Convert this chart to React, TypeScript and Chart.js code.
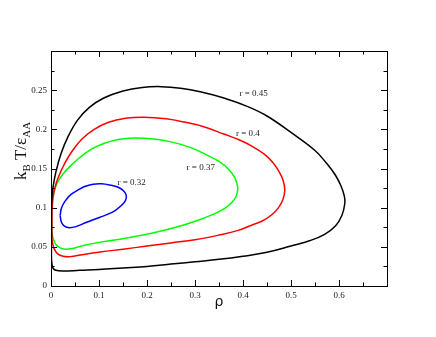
import React, { useEffect, useRef } from "react";
import { Chart, registerables } from "chart.js";

Chart.register(...registerables);

// r = 0.45 (black)
const r45X = [0.001, 0.002, 0.004, 0.01, 0.021, 0.035, 0.055, 0.08, 0.11, 0.15, 0.19, 0.23, 0.27, 0.311, 0.36, 0.41, 0.45, 0.5, 0.55, 0.575, 0.592, 0.604, 0.611, 0.612, 0.606, 0.593, 0.57, 0.54, 0.5, 0.45, 0.4, 0.35, 0.3, 0.25, 0.2, 0.15, 0.1, 0.06, 0.025, 0.01, 0.004, 0.002, 0.001, 0.001, 0.001];
const r45Y = [0.1, 0.113, 0.125, 0.145, 0.169, 0.19, 0.2115, 0.228, 0.24, 0.249, 0.2535, 0.2545, 0.2525, 0.248, 0.24, 0.229, 0.217, 0.196, 0.173, 0.156, 0.142, 0.128, 0.115, 0.105, 0.09, 0.077, 0.066, 0.058, 0.051, 0.043, 0.038, 0.034, 0.031, 0.028, 0.025, 0.023, 0.021, 0.02, 0.019, 0.02, 0.023, 0.028, 0.035, 0.06, 0.1];
// r = 0.4 (red)
const r40X = [0.002, 0.004, 0.008, 0.014, 0.028, 0.045, 0.065, 0.09, 0.12, 0.155, 0.193, 0.24, 0.28, 0.32, 0.36, 0.394, 0.42, 0.445, 0.463, 0.476, 0.484, 0.487, 0.483, 0.474, 0.46, 0.44, 0.415, 0.39, 0.35, 0.3, 0.25, 0.2, 0.15, 0.103, 0.065, 0.04, 0.025, 0.014, 0.007, 0.004, 0.002, 0.002];
const r40Y = [0.095, 0.112, 0.125, 0.137, 0.156, 0.173, 0.188, 0.2, 0.209, 0.214, 0.2155, 0.2135, 0.209, 0.203, 0.194, 0.186, 0.178, 0.168, 0.157, 0.145, 0.134, 0.122, 0.11, 0.1, 0.091, 0.083, 0.077, 0.071, 0.065, 0.059, 0.055, 0.051, 0.047, 0.0434, 0.04, 0.0375, 0.038, 0.041, 0.047, 0.053, 0.06, 0.095];
// r = 0.37 (green)
const r37X = [0.001, 0.003, 0.007, 0.014, 0.025, 0.04, 0.06, 0.085, 0.11, 0.14, 0.172, 0.21, 0.25, 0.29, 0.322, 0.35, 0.37, 0.383, 0.389, 0.386, 0.377, 0.362, 0.34, 0.311, 0.26, 0.207, 0.155, 0.103, 0.07, 0.045, 0.03, 0.018, 0.01, 0.005, 0.002, 0.001, 0.001];
const r37Y = [0.095, 0.11, 0.122, 0.133, 0.143, 0.153, 0.164, 0.175, 0.182, 0.187, 0.189, 0.188, 0.184, 0.177, 0.168, 0.159, 0.149, 0.138, 0.126, 0.115, 0.107, 0.099, 0.092, 0.085, 0.075, 0.067, 0.061, 0.056, 0.052, 0.048, 0.047, 0.049, 0.053, 0.06, 0.067, 0.075, 0.095];
// r = 0.32 (blue)
const r32X = [0.019, 0.022, 0.029, 0.04, 0.055, 0.07, 0.088, 0.105, 0.122, 0.14, 0.152, 0.157, 0.155, 0.147, 0.135, 0.12, 0.103, 0.085, 0.065, 0.05, 0.038, 0.028, 0.022, 0.019];
const r32Y = [0.09, 0.1, 0.108, 0.116, 0.122, 0.127, 0.13, 0.1305, 0.129, 0.126, 0.121, 0.115, 0.109, 0.103, 0.097, 0.092, 0.088, 0.084, 0.079, 0.0755, 0.0745, 0.0765, 0.081, 0.09];

const labelTexts = ["r = 0.45", "r = 0.4", "r = 0.37", "r = 0.32"];
const labelX = [0.422, 0.41, 0.312, 0.168];
const labelY = [0.245, 0.194, 0.1506, 0.132];

const xMajorTicks = [0, 0.1, 0.2, 0.3, 0.4, 0.5, 0.6, 0.7];
const yMajorTicks = [0, 0.05, 0.1, 0.15, 0.2, 0.25, 0.3];

const toPts = (xs: number[], ys: number[]) => xs.map((x, i) => ({ x, y: ys[i] }));

const decorPlugin = {
  id: "decor",
  afterDraw(chart: any) {
    const { ctx, chartArea, scales } = chart;
    const xs = scales.x;
    const ys = scales.y;
    const L = chartArea.left, R = chartArea.right, T = chartArea.top, B = chartArea.bottom;
    ctx.save();
    ctx.strokeStyle = "#000";
    ctx.lineWidth = 1;
    ctx.strokeRect(Math.round(L) + 0.5, Math.round(T) + 0.5, Math.round(R - L), Math.round(B - T));
    ctx.beginPath();
    for (let v = 0; v <= 0.7001; v += 0.05) {
      const major = Math.abs(v * 10 - Math.round(v * 10)) < 1e-6;
      const len = major ? 6 : 3.5;
      const px = Math.round(xs.getPixelForValue(v)) + 0.5;
      ctx.moveTo(px, B);
      ctx.lineTo(px, B - len);
      ctx.moveTo(px, T);
      ctx.lineTo(px, T + len);
    }
    for (let v = 0; v <= 0.3001; v += 0.025) {
      const major = Math.abs(v * 20 - Math.round(v * 20)) < 1e-6;
      const len = major ? 6 : 3.5;
      const py = Math.round(ys.getPixelForValue(v)) + 0.5;
      ctx.moveTo(L, py);
      ctx.lineTo(L + len, py);
      ctx.moveTo(R, py);
      ctx.lineTo(R - len, py);
    }
    ctx.stroke();

    // curve labels
    ctx.fillStyle = "#222";
    ctx.font = "9px 'Liberation Serif'";
    ctx.textAlign = "center";
    ctx.textBaseline = "middle";
    labelTexts.forEach((t, i) => {
      ctx.fillText(t, xs.getPixelForValue(labelX[i]), ys.getPixelForValue(labelY[i]));
    });

    // x title
    ctx.fillStyle = "#111";
    ctx.font = "14px 'DejaVu Sans'";
    ctx.textAlign = "center";
    ctx.textBaseline = "alphabetic";
    ctx.fillText("ρ", (L + R) / 2, 306);

    // y title with subscripts
    const parts: [string, boolean][] = [["k", false], ["B", true], [" T/ε", false], ["AA", true]];
    const mainFont = "17px 'Liberation Serif'";
    const subFont = "11px 'Liberation Serif'";
    let total = 0;
    parts.forEach(([t, sub]) => {
      ctx.font = sub ? subFont : mainFont;
      total += ctx.measureText(t).width;
    });
    ctx.translate(26, 151);
    ctx.rotate(-Math.PI / 2);
    ctx.textAlign = "left";
    let cx = -total / 2;
    parts.forEach(([t, sub]) => {
      ctx.font = sub ? subFont : mainFont;
      ctx.fillText(t, cx, sub ? 4 : 0);
      cx += ctx.measureText(t).width;
    });
    ctx.restore();
  },
};

const fmt = (v: number) => String(Number(v.toFixed(3)));

export default function App() {
  const ref = useRef<HTMLCanvasElement | null>(null);
  useEffect(() => {
    if (!ref.current) return;
    const mk = (xs: number[], ys: number[], color: string) => ({
      data: toPts(xs, ys),
      borderColor: color,
      backgroundColor: color,
      borderWidth: 1.5,
      showLine: true,
      pointRadius: 0,
      tension: 0.4,
      fill: false,
    });
    const chart = new Chart(ref.current, {
      type: "scatter",
      data: {
        datasets: [
          mk(r45X, r45Y, "#000000"),
          mk(r40X, r40Y, "#ff0000"),
          mk(r37X, r37Y, "#00ff00"),
          mk(r32X, r32Y, "#0000ff"),
        ],
      },
      options: {
        responsive: false,
        animation: false,
        layout: { padding: { left: 0, top: 51, right: 49, bottom: 0 } },
        plugins: { legend: { display: false }, tooltip: { enabled: false } },
        scales: {
          x: {
            type: "linear",
            min: 0,
            max: 0.7,
            afterFit: (s: any) => { s.height = 51; },
            afterBuildTicks: (s: any) => { s.ticks = xMajorTicks.map((v) => ({ value: v })); },
            grid: { display: false, drawTicks: false },
            border: { display: false },
            ticks: {
              padding: 4,
              maxRotation: 0,
              autoSkip: false,
              color: "#222",
              font: { family: "'Liberation Serif'", size: 9 },
              callback: (v: any) => (Math.abs(v - 0.7) < 1e-6 ? "" : fmt(Number(v))),
            },
          },
          y: {
            type: "linear",
            min: 0,
            max: 0.3,
            afterFit: (s: any) => { s.width = 51; },
            afterBuildTicks: (s: any) => { s.ticks = yMajorTicks.map((v) => ({ value: v })); },
            grid: { display: false, drawTicks: false },
            border: { display: false },
            ticks: {
              padding: 4,
              autoSkip: false,
              color: "#222",
              font: { family: "'Liberation Serif'", size: 9 },
              callback: (v: any) => (Math.abs(v - 0.3) < 1e-6 ? "" : fmt(Number(v))),
            },
          },
        },
      },
      plugins: [decorPlugin],
    });
    return () => chart.destroy();
  }, []);
  return (
    <div style={{ position: "absolute", left: 0, top: 0, width: 436, height: 337, background: "#fff" }}>
      <canvas ref={ref} width={436} height={337} style={{ width: 436, height: 337 }} />
    </div>
  );
}
